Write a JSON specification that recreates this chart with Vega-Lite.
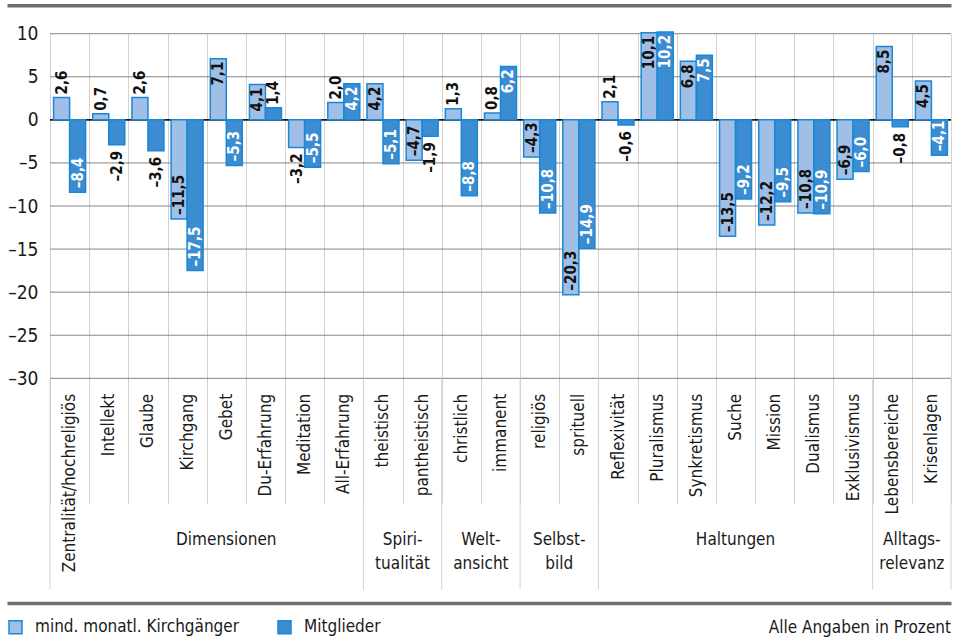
{
  "$schema": "https://vega.github.io/schema/vega-lite/v6.json",
  "width": 944,
  "height": 344.6,
  "autosize": {"type": "none"},
  "padding": {"left": 7, "top": 33.7, "right": 7, "bottom": 264.7},
  "config": {
    "locale": {"number": {"decimal": ",", "thousands": ".", "grouping": [3], "currency": ["", " €"], "minus": "–"}},
    "view": {"stroke": null},
    "font": "DejaVu Sans Condensed, DejaVu Sans, sans-serif",
    "axis": {"labelFont": "DejaVu Sans Condensed, DejaVu Sans, sans-serif", "labelColor": "#1a1a1a", "labelFontSize": 17},
    "legend": {"labelFont": "DejaVu Sans Condensed, DejaVu Sans, sans-serif"}
  },
  "datasets": {
    "bars": [
      {"cat": "Zentralität/hochreligiös", "series": "mind. monatl. Kirchgänger", "value": 2.6},
      {"cat": "Zentralität/hochreligiös", "series": "Mitglieder", "value": -8.4},
      {"cat": "Intellekt", "series": "mind. monatl. Kirchgänger", "value": 0.7},
      {"cat": "Intellekt", "series": "Mitglieder", "value": -2.9},
      {"cat": "Glaube", "series": "mind. monatl. Kirchgänger", "value": 2.6},
      {"cat": "Glaube", "series": "Mitglieder", "value": -3.6},
      {"cat": "Kirchgang", "series": "mind. monatl. Kirchgänger", "value": -11.5},
      {"cat": "Kirchgang", "series": "Mitglieder", "value": -17.5},
      {"cat": "Gebet", "series": "mind. monatl. Kirchgänger", "value": 7.1},
      {"cat": "Gebet", "series": "Mitglieder", "value": -5.3},
      {"cat": "Du-Erfahrung", "series": "mind. monatl. Kirchgänger", "value": 4.1},
      {"cat": "Du-Erfahrung", "series": "Mitglieder", "value": 1.4},
      {"cat": "Meditation", "series": "mind. monatl. Kirchgänger", "value": -3.2},
      {"cat": "Meditation", "series": "Mitglieder", "value": -5.5},
      {"cat": "All-Erfahrung", "series": "mind. monatl. Kirchgänger", "value": 2.0},
      {"cat": "All-Erfahrung", "series": "Mitglieder", "value": 4.2},
      {"cat": "theistisch", "series": "mind. monatl. Kirchgänger", "value": 4.2},
      {"cat": "theistisch", "series": "Mitglieder", "value": -5.1},
      {"cat": "pantheistisch", "series": "mind. monatl. Kirchgänger", "value": -4.7},
      {"cat": "pantheistisch", "series": "Mitglieder", "value": -1.9},
      {"cat": "christlich", "series": "mind. monatl. Kirchgänger", "value": 1.3},
      {"cat": "christlich", "series": "Mitglieder", "value": -8.8},
      {"cat": "immanent", "series": "mind. monatl. Kirchgänger", "value": 0.8},
      {"cat": "immanent", "series": "Mitglieder", "value": 6.2},
      {"cat": "religiös", "series": "mind. monatl. Kirchgänger", "value": -4.3},
      {"cat": "religiös", "series": "Mitglieder", "value": -10.8},
      {"cat": "sprituell", "series": "mind. monatl. Kirchgänger", "value": -20.3},
      {"cat": "sprituell", "series": "Mitglieder", "value": -14.9},
      {"cat": "Reflexivität", "series": "mind. monatl. Kirchgänger", "value": 2.1},
      {"cat": "Reflexivität", "series": "Mitglieder", "value": -0.6},
      {"cat": "Pluralismus", "series": "mind. monatl. Kirchgänger", "value": 10.1},
      {"cat": "Pluralismus", "series": "Mitglieder", "value": 10.2},
      {"cat": "Synkretismus", "series": "mind. monatl. Kirchgänger", "value": 6.8},
      {"cat": "Synkretismus", "series": "Mitglieder", "value": 7.5},
      {"cat": "Suche", "series": "mind. monatl. Kirchgänger", "value": -13.5},
      {"cat": "Suche", "series": "Mitglieder", "value": -9.2},
      {"cat": "Mission", "series": "mind. monatl. Kirchgänger", "value": -12.2},
      {"cat": "Mission", "series": "Mitglieder", "value": -9.5},
      {"cat": "Dualismus", "series": "mind. monatl. Kirchgänger", "value": -10.8},
      {"cat": "Dualismus", "series": "Mitglieder", "value": -10.9},
      {"cat": "Exklusivismus", "series": "mind. monatl. Kirchgänger", "value": -6.9},
      {"cat": "Exklusivismus", "series": "Mitglieder", "value": -6.0},
      {"cat": "Lebensbereiche", "series": "mind. monatl. Kirchgänger", "value": 8.5},
      {"cat": "Lebensbereiche", "series": "Mitglieder", "value": -0.8},
      {"cat": "Krisenlagen", "series": "mind. monatl. Kirchgänger", "value": 4.5},
      {"cat": "Krisenlagen", "series": "Mitglieder", "value": -4.1}
    ],
    "grid": [{"v": -30}, {"v": -25}, {"v": -20}, {"v": -15}, {"v": -10}, {"v": -5}, {"v": 0}, {"v": 5}, {"v": 10}],
    "groups": [
      {"group": "Dimensionen", "first": "Zentralität/hochreligiös"},
      {"group": "Spiritualität", "first": "theistisch"},
      {"group": "Weltansicht", "first": "christlich"},
      {"group": "Selbstbild", "first": "religiös"},
      {"group": "Haltungen", "first": "Reflexivität"},
      {"group": "Alltagsrelevanz", "first": "Lebensbereiche"}
    ],
    "grouplabels": [
      {"label": ["Dimensionen"], "cat": "Gebet"},
      {"label": ["Spiri-", "tualität"], "cat": "pantheistisch"},
      {"label": ["Welt-", "ansicht"], "cat": "immanent"},
      {"label": ["Selbst-", "bild"], "cat": "sprituell"},
      {"label": ["Haltungen"], "cat": "Suche"},
      {"label": ["Alltags-", "relevanz"], "cat": "Krisenlagen"}
    ]
  },
  "data": {"name": "bars"},
  "layer": [
    {
      "data": {"name": "grid"},
      "mark": {"type": "rule"},
      "encoding": {
        "x": {"datum": "Zentralität/hochreligiös", "type": "nominal", "bandPosition": 0,
          "axis": {"orient": "top", "offset": 28.4, "domain": true, "domainWidth": 3.5, "domainColor": "#6e6e6e", "labels": false, "ticks": false, "grid": false, "title": null}},
        "x2": {"datum": "Krisenlagen", "bandPosition": 1},
        "y": {"field": "v", "type": "quantitative", "scale": {"domain": [-30, 10], "nice": false},
          "axis": {"orient": "left", "offset": -43, "values": [-30, -25, -20, -15, -10, -5, 0, 5, 10], "format": "d", "grid": false, "ticks": false, "domain": false, "labelPadding": 12, "labelFontSize": 19, "title": null}},
        "color": {"condition": {"test": "datum.v === 0", "value": "#1a1a1a"}, "value": "#858585"},
        "strokeWidth": {"condition": {"test": "datum.v === 0", "value": 1.6}, "value": 1}
      }
    },
    {
      "mark": {"type": "bar", "stroke": "#1a88d6", "strokeWidth": 1.5},
      "encoding": {
        "x": {"field": "cat", "type": "nominal",
          "scale": {"domain": ["Zentralität/hochreligiös", "Intellekt", "Glaube", "Kirchgang", "Gebet", "Du-Erfahrung", "Meditation", "All-Erfahrung", "theistisch", "pantheistisch", "christlich", "immanent", "religiös", "sprituell", "Reflexivität", "Pluralismus", "Synkretismus", "Suche", "Mission", "Dualismus", "Exklusivismus", "Lebensbereiche", "Krisenlagen"],
            "paddingInner": 0, "paddingOuter": 0.5488, "align": 1},
          "axis": {"orient": "bottom", "grid": true, "gridColor": "#d2d2d2", "tickBand": "extent", "ticks": true, "tickSize": 125, "tickColor": "#d2d2d2", "domain": false, "labelAngle": -90, "labelPadding": -110, "labelLimit": 400, "labelOverlap": false, "title": null}},
        "xOffset": {"field": "series", "type": "nominal", "scale": {"domain": ["mind. monatl. Kirchgänger", "Mitglieder"], "paddingInner": 0, "paddingOuter": 0.224}},
        "y": {"field": "value", "type": "quantitative"},
        "fill": {"field": "series", "type": "nominal",
          "scale": {"domain": ["mind. monatl. Kirchgänger", "Mitglieder"], "range": ["#a0bfe6", "#3b8cd0"]},
          "legend": {"orient": "none", "legendX": 0, "legendY": 585, "direction": "horizontal", "title": null, "padding": 0, "symbolType": "square", "symbolSize": 169, "symbolStrokeColor": "#1a88d6", "symbolStrokeWidth": 1.5, "labelFontSize": 17, "labelColor": "#1a1a1a", "labelOffset": 11, "columnPadding": 35, "labelLimit": 400}}
      }
    },
    {
      "transform": [{"filter": "datum.value > 0 && datum.value < 4"}],
      "mark": {"type": "text", "angle": -90, "align": "left", "baseline": "middle", "dx": 3, "fontWeight": "bold", "fontSize": 15, "color": "#111111"},
      "encoding": {
        "x": {"field": "cat", "type": "nominal", "axis": null},
        "xOffset": {"field": "series", "type": "nominal"},
        "y": {"field": "value", "type": "quantitative"},
        "text": {"field": "value", "type": "quantitative", "format": ".1f"}
      }
    },
    {
      "transform": [{"filter": "datum.value >= 4"}],
      "mark": {"type": "text", "angle": -90, "align": "right", "baseline": "middle", "dx": -3, "fontWeight": "bold", "fontSize": 15},
      "encoding": {
        "x": {"field": "cat", "type": "nominal", "axis": null},
        "xOffset": {"field": "series", "type": "nominal"},
        "y": {"field": "value", "type": "quantitative"},
        "text": {"field": "value", "type": "quantitative", "format": ".1f"},
        "color": {"condition": {"test": "datum.series === 'Mitglieder'", "value": "#ffffff"}, "value": "#111111"}
      }
    },
    {
      "transform": [{"filter": "datum.value <= -4"}],
      "mark": {"type": "text", "angle": -90, "align": "left", "baseline": "middle", "dx": 4, "fontWeight": "bold", "fontSize": 15},
      "encoding": {
        "x": {"field": "cat", "type": "nominal", "axis": null},
        "xOffset": {"field": "series", "type": "nominal"},
        "y": {"field": "value", "type": "quantitative"},
        "text": {"field": "value", "type": "quantitative", "format": ".1f"},
        "color": {"condition": {"test": "datum.series === 'Mitglieder'", "value": "#ffffff"}, "value": "#111111"}
      }
    },
    {
      "transform": [{"filter": "datum.value < 0 && datum.value > -4"}],
      "mark": {"type": "text", "angle": -90, "align": "right", "baseline": "middle", "dx": -6, "fontWeight": "bold", "fontSize": 15, "color": "#111111"},
      "encoding": {
        "x": {"field": "cat", "type": "nominal", "axis": null},
        "xOffset": {"field": "series", "type": "nominal"},
        "y": {"field": "value", "type": "quantitative"},
        "text": {"field": "value", "type": "quantitative", "format": ".1f"}
      }
    },
    {
      "data": {"name": "groups"},
      "mark": {"type": "rule", "color": "#d2d2d2", "strokeWidth": 1},
      "encoding": {
        "x": {"field": "first", "type": "nominal", "bandPosition": 0,
          "axis": {"orient": "bottom", "offset": 224.7, "domain": true, "domainWidth": 3.5, "domainColor": "#6e6e6e", "labels": false, "ticks": false, "grid": false, "title": null}},
        "y": {"datum": -30, "type": "quantitative"},
        "y2": {"datum": -54.5}
      }
    },
    {
      "data": {"values": [{"cat": "Krisenlagen"}]},
      "mark": {"type": "rule", "color": "#d2d2d2", "strokeWidth": 1},
      "encoding": {
        "x": {"field": "cat", "type": "nominal", "bandPosition": 1, "axis": null},
        "y": {"datum": -30, "type": "quantitative"},
        "y2": {"datum": -54.5}
      }
    },
    {
      "data": {"name": "grouplabels"},
      "transform": [{"filter": "datum.cat === 'Gebet' || datum.cat === 'Suche'"}],
      "mark": {"type": "text", "align": "center", "baseline": "alphabetic", "fontSize": 17, "lineHeight": 24, "color": "#1a1a1a"},
      "encoding": {
        "x": {"field": "cat", "type": "nominal", "bandPosition": 0.5, "axis": null},
        "y": {"datum": -49.35, "type": "quantitative"},
        "text": {"field": "label"}
      }
    },
    {
      "data": {"name": "grouplabels"},
      "transform": [{"filter": "datum.cat !== 'Gebet' && datum.cat !== 'Suche'"}],
      "mark": {"type": "text", "align": "center", "baseline": "alphabetic", "fontSize": 17, "lineHeight": 24, "color": "#1a1a1a"},
      "encoding": {
        "x": {"field": "cat", "type": "nominal", "bandPosition": 0, "axis": null},
        "y": {"datum": -49.35, "type": "quantitative"},
        "text": {"field": "label"}
      }
    },
    {
      "data": {"values": [{"cat": "Krisenlagen", "note": "Alle Angaben in Prozent"}]},
      "mark": {"type": "text", "align": "right", "baseline": "alphabetic", "fontSize": 17, "color": "#1a1a1a"},
      "encoding": {
        "x": {"field": "cat", "type": "nominal", "bandPosition": 1, "axis": null},
        "y": {"datum": -59.56, "type": "quantitative"},
        "text": {"field": "note"}
      }
    }
  ],
  "resolve": {"axis": {"x": "independent"}}
}
